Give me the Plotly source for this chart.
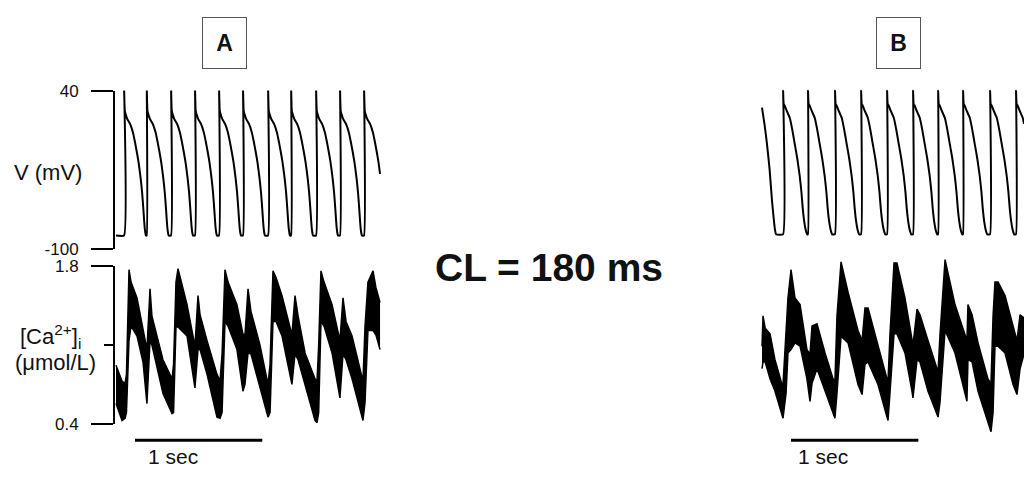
import numpy as np
import plotly.graph_objects as go

W, H = 1024, 478
FONT = "Liberation Sans, Arial, sans-serif"

# ---------------- Panel A: membrane potential ----------------
A_END_MS = 2082
A_LEAD_T = [8]
A_LEAD_V = [-88]
A_BEATS_MS = [71, 249, 440, 628, 817, 1005, 1202, 1383, 1579, 1767, 1956]
AP_A_T = [0, 1, 3, 6, 13, 25, 50, 70, 85, 100, 115, 131, 142, 152, 158, 163, 168, 172]
AP_A_V = [-88, 40, 30, 22, 19, 15, 10, 3, -5, -14, -24, -38, -50, -65, -75, -82, -86, -88]

# ---------------- Panel B: membrane potential ----------------
B_END_MS = 2113
B_LEAD_T = [55, 75, 94, 115, 134, 147, 157, 165]
B_LEAD_V = [25, 10, -7, -30, -58, -73, -83, -87]
B_BEATS_MS = [220, 416, 628, 833, 1037, 1241, 1438, 1634, 1846, 2050]
AP_B_T = [0, 1, 3, 6, 12, 30, 53, 72, 92, 112, 131, 145, 155, 167, 178, 186, 190]
AP_B_V = [-87, 40, 32, 28, 27, 22, 16, 6, -7, -20, -35, -50, -64, -76, -83, -86, -87]

# ---------------- Panel A: [Ca2+]i band (upper / lower edge) ----------------
CA_A_T = [8, 55, 79, 90, 110, 126, 173, 220, 251, 275, 290, 330, 377, 448, 460,
          479, 495, 566, 628, 652, 668, 723, 801, 825, 841, 864, 888, 958, 1005,
          1021, 1045, 1068, 1139, 1202, 1218, 1241, 1265, 1312, 1390, 1414, 1438,
          1493, 1571, 1587, 1600, 1618, 1642, 1705, 1767, 1791, 1815, 1862, 1940,
          1948, 1964, 1987, 2027, 2050, 2082]
CA_A_HI = [0.92, 0.78, 0.76, 0.84, 1.77, 1.66, 1.52, 1.23, 1.06, 1.60, 1.36, 1.18,
           0.97, 0.80, 0.93, 1.66, 1.78, 1.46, 1.09, 1.54, 1.37, 1.14, 0.84, 0.78,
           1.02, 1.77, 1.66, 1.46, 1.20, 1.19, 1.60, 1.40, 1.10, 0.75, 0.93, 1.76,
           1.70, 1.54, 1.19, 1.54, 1.36, 1.03, 0.80, 0.78, 1.10, 1.76, 1.66, 1.46,
           1.14, 1.52, 1.31, 1.18, 0.80, 0.78, 1.27, 1.66, 1.76, 1.61, 1.48]
CA_A_LO = [0.58, 0.43, 0.45, 0.50, 1.14, 1.27, 1.18, 0.95, 0.58, 1.14, 1.10, 0.89,
           0.67, 0.49, 0.50, 1.26, 1.26, 1.18, 0.72, 1.06, 1.06, 0.84, 0.46, 0.45,
           0.50, 1.31, 1.27, 1.06, 0.69, 0.75, 1.03, 1.02, 0.72, 0.46, 0.50, 1.31,
           1.31, 1.18, 0.75, 1.02, 0.97, 0.75, 0.43, 0.41, 0.50, 1.31, 1.27, 1.03,
           0.63, 1.02, 0.97, 0.80, 0.46, 0.43, 0.59, 1.23, 1.23, 1.19, 1.06]

# ---------------- Panel B: [Ca2+]i band (upper / lower edge) ----------------
CA_B_T = [55, 63, 80, 118, 157, 212, 220, 244, 259, 283, 314, 354, 408, 432, 448,
          487, 550, 613, 628, 644, 676, 731, 809, 841, 864, 888, 966, 1037, 1045,
          1060, 1092, 1115, 1178, 1233, 1241, 1273, 1296, 1359, 1438, 1453, 1493,
          1571, 1650, 1665, 1673, 1705, 1752, 1830, 1854, 1870, 1885, 1909, 1964,
          2027, 2058, 2082, 2113]
CA_B_HI = [1.09, 1.36, 1.25, 1.20, 0.97, 0.75, 0.75, 1.27, 1.52, 1.77, 1.52, 1.46,
           1.06, 1.02, 1.27, 1.29, 1.03, 0.80, 0.78, 1.36, 1.84, 1.57, 1.23, 1.14,
           1.43, 1.43, 1.09, 0.80, 0.78, 1.19, 1.83, 1.83, 1.52, 1.14, 1.10, 1.42,
           1.37, 1.14, 0.86, 1.19, 1.86, 1.46, 1.18, 1.14, 1.46, 1.37, 1.12, 0.80,
           0.76, 1.36, 1.66, 1.66, 1.54, 1.26, 1.14, 1.37, 1.34]
CA_B_LO = [0.89, 0.95, 0.95, 0.80, 0.69, 0.46, 0.45, 0.67, 1.03, 1.06, 1.12, 1.09,
           0.80, 0.60, 0.76, 0.89, 0.69, 0.49, 0.45, 0.67, 1.18, 1.12, 0.75, 0.66,
           0.93, 0.95, 0.75, 0.46, 0.43, 0.67, 1.20, 1.20, 1.03, 0.69, 0.63, 0.97,
           0.95, 0.69, 0.46, 0.59, 1.23, 1.03, 0.69, 0.60, 0.97, 0.95, 0.69, 0.41,
           0.33, 0.50, 1.09, 1.09, 1.03, 0.75, 0.66, 0.89, 1.02]

V_TICKS = [40, -100]
CA_TICKS = [1.8, 0.4]
CA_MID = [1.1]


def build_ap(lead_t, lead_v, beats, tpl_t, tpl_v, end):
    """Chain the action-potential template at each beat onset."""
    t = list(lead_t)
    v = list(lead_v)
    for b in beats:
        t += [b + dt for dt in tpl_t]
        v += list(tpl_v)
    t = np.array(t, float)
    v = np.array(v, float)
    keep = t <= end
    last = np.interp(end, t, v)
    return np.append(t[keep], end), np.append(v[keep], last)


tA, vA = build_ap(A_LEAD_T, A_LEAD_V, A_BEATS_MS, AP_A_T, AP_A_V, A_END_MS)
tB, vB = build_ap(B_LEAD_T, B_LEAD_V, B_BEATS_MS, AP_B_T, AP_B_V, B_END_MS)

fig = go.Figure()
line = dict(color="black", width=2, shape="spline", smoothing=0.4)
fig.add_trace(go.Scatter(x=tA, y=vA, mode="lines", line=line, xaxis="x", yaxis="y"))
fig.add_trace(go.Scatter(x=tB, y=vB, mode="lines", line=line, xaxis="x2", yaxis="y3"))

band = dict(color="black", width=1.5)
fig.add_trace(go.Scatter(x=CA_A_T, y=CA_A_LO, mode="lines", line=band,
                         xaxis="x", yaxis="y2"))
fig.add_trace(go.Scatter(x=CA_A_T, y=CA_A_HI, mode="lines", line=band,
                         fill="tonexty", fillcolor="black", xaxis="x", yaxis="y2"))
fig.add_trace(go.Scatter(x=CA_B_T, y=CA_B_LO, mode="lines", line=band,
                         xaxis="x2", yaxis="y4"))
fig.add_trace(go.Scatter(x=CA_B_T, y=CA_B_HI, mode="lines", line=band,
                         fill="tonexty", fillcolor="black", xaxis="x2", yaxis="y4"))

# pixel geometry of the two panels
PX_PER_MS = 0.1273
xA0, xA1 = 115, 385
xB0, xB1 = 755, 1024
v_top, v_bot = 85, 250          # 40 mV and -100 mV rows
ca_top, ca_bot = 268, 432       # 1.8 and 0.4 rows


def ydom(top_px, bot_px):
    return [1 - bot_px / H, 1 - top_px / H]


ca_per = (ca_bot - ca_top) / 1.4
tick_font = dict(family=FONT, size=17, color="#111")

fig.update_layout(
    width=W, height=H, margin=dict(l=0, r=0, t=0, b=0),
    paper_bgcolor="white", plot_bgcolor="rgba(0,0,0,0)", showlegend=False,
    xaxis=dict(domain=[xA0 / W, xA1 / W], range=[0, (xA1 - xA0) / PX_PER_MS],
               visible=False, anchor="y"),
    xaxis2=dict(domain=[xB0 / W, xB1 / W], range=[0, (xB1 - xB0) / PX_PER_MS],
                visible=False, anchor="y3"),
    yaxis=dict(domain=ydom(v_top, v_bot), range=[-100, 40], anchor="x",
               showline=True, linecolor="black", linewidth=2, showgrid=False,
               zeroline=False, ticks="outside", ticklen=22, tickwidth=2,
               tickcolor="black", tickvals=V_TICKS, ticktext=["40", "-100"],
               tickfont=tick_font, ticklabelstandoff=9),
    yaxis2=dict(domain=ydom(ca_top, ca_bot), range=[0.4, 1.8], anchor="x",
                showline=True, linecolor="black", linewidth=2, showgrid=False,
                zeroline=False, ticks="outside", ticklen=22, tickwidth=2,
                tickcolor="black", tickvals=CA_TICKS, ticktext=["1.8", "0.4"],
                tickfont=tick_font, ticklabelstandoff=9,
                minor=dict(tickvals=CA_MID, ticks="outside", ticklen=9,
                           tickwidth=2, tickcolor="black")),
    yaxis3=dict(domain=ydom(v_top - 12, v_bot + 12), range=[-110.2, 50.2],
                anchor="x2", visible=False),
    yaxis4=dict(domain=ydom(ca_top - 0.2 * ca_per, ca_bot + 0.2 * ca_per),
                range=[0.2, 2.0], anchor="x2", visible=False),
)

ann = []


def text(x, y, s, size, bold=False, **kw):
    d = dict(x=x / W, y=1 - y / H, xref="paper", yref="paper", text=s,
             showarrow=False, xanchor="center", yanchor="middle",
             font=dict(family=FONT, size=size, color="#111"))
    if bold:
        d["text"] = "<b>" + s + "</b>"
    d.update(kw)
    ann.append(d)


text(224.5, 35, "A", 23, bold=True, bordercolor="#555", borderwidth=1,
     width=43, height=50, borderpad=0, bgcolor="white")
text(898.5, 35, "B", 23, bold=True, bordercolor="#555", borderwidth=1,
     width=43, height=50, borderpad=0, bgcolor="white")
text(549, 269, "CL = 180 ms", 39, bold=True)
text(48, 170, "V (mV)", 22)
text(50, 341, "[Ca<sup>2+</sup>]<sub>i</sub>", 22)
text(55, 368, "(μmol/L)", 22)

# 1-second scale bars under each panel
SCALE_START_A = 157
SCALE_START_B = 283
shapes = []
for xr, s0 in (("x", SCALE_START_A), ("x2", SCALE_START_B)):
    shapes.append(dict(type="line", xref=xr, yref="paper", x0=s0, x1=s0 + 1000,
                       y0=1 - 449 / H, y1=1 - 449 / H,
                       line=dict(color="black", width=3)))
for xr, s0 in (("x", SCALE_START_A + 86), ("x2", SCALE_START_B + 42)):
    ann.append(dict(x=s0, y=1 - 466 / H, xref=xr, yref="paper",
                    text="1 sec", showarrow=False, xanchor="left",
                    yanchor="middle",
                    font=dict(family=FONT, size=21, color="#111")))

fig.update_layout(annotations=ann, shapes=shapes)
fig.write_html("out.html")
